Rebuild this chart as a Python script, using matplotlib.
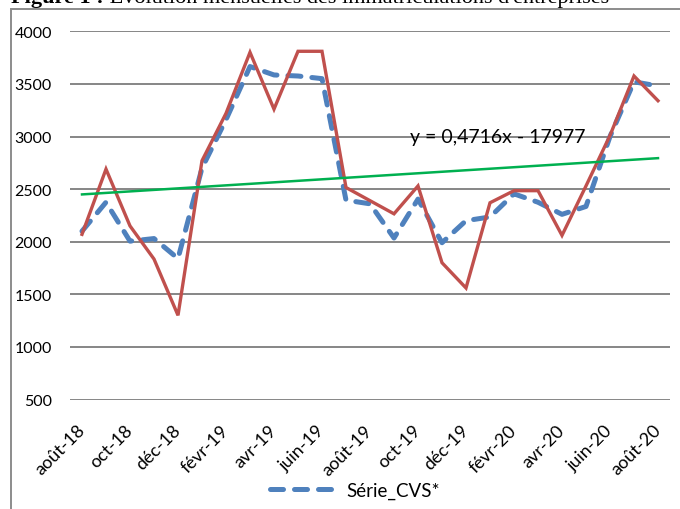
import matplotlib
matplotlib.use("Agg")
import matplotlib.pyplot as plt
from matplotlib.lines import Line2D
from matplotlib.patches import Rectangle
import pandas as pd

# ---- data ----
months = ["août-18", "sept-18", "oct-18", "nov-18", "déc-18", "janv-19", "févr-19",
          "mars-19", "avr-19", "mai-19", "juin-19", "juil-19", "août-19", "sept-19",
          "oct-19", "nov-19", "déc-19", "janv-20", "févr-20", "mars-20", "avr-20",
          "mai-20", "juin-20", "juil-20", "août-20"]
month_dates = pd.date_range("2018-08-01", "2020-08-01", freq="MS")
serie_brute = [2070, 2690, 2150, 1835, 1300, 2770, 3220, 3800, 3260, 3810, 3810, 2515,
               2390, 2265, 2530, 1800, 1560, 2370, 2485, 2485, 2060, 2530, 3010, 3575, 3340]
serie_cvs = [2100, 2375, 2005, 2030, 1840, 2700, 3160, 3665, 3585, 3575, 3550, 2395,
             2360, 2035, 2405, 1990, 2200, 2235, 2455, 2375, 2260, 2335, 3000, 3520, 3480]
trend_slope = 0.4716
trend_intercept = -17977
trend_label = "y = 0,4716x - 17977"
yticks = [500, 1000, 1500, 2000, 2500, 3000, 3500, 4000]
title_bold = "Figure 1 :"
title_rest = " Évolution mensuelles des immatriculations d'entreprises"
legend_label = "Série_CVS*"

W, H = 680, 510
fig = plt.figure(figsize=(W / 100, H / 100), dpi=100)
fig.patch.set_facecolor("white")

# chart border
fig.patches.append(Rectangle((11 / W, -0.1), 1.2, (1 - 9.5 / H) + 0.1,
                             transform=fig.transFigure, fill=False,
                             edgecolor="#8c8c8c", linewidth=1.4, zorder=0))

ax = fig.add_axes([70 / W, 1 - 400.5 / H, 600 / W, (400.5 - 32.3) / H])
x = list(range(len(months)))

ax.plot(x, serie_cvs, color="#4F81BD", linewidth=3.6, dashes=(2.6, 2.2),
        dash_capstyle="round", solid_capstyle="round", zorder=3)
ax.plot(x, serie_brute, color="#C0504D", linewidth=2.4, solid_joinstyle="miter", zorder=4)

# trend line from displayed equation (Excel date serials)
serials = [(d - pd.Timestamp("1899-12-30")).days for d in month_dates]
tx = [x[0], x[-1]]
ty = [trend_slope * serials[0] + trend_intercept, trend_slope * serials[-1] + trend_intercept]
ax.plot(tx, ty, color="#00B050", linewidth=1.8, zorder=5)
ax.annotate(trend_label, xy=(13.65, 3000), fontsize=14, family="Lato",
            ha="left", va="center", color="black")

ax.set_xlim(-0.5, len(months) - 0.5)
ax.set_ylim(500, 4000)
ax.set_yticks(yticks)
ax.set_yticklabels([str(v) for v in yticks], family="Lato", fontsize=11.5)
ax.yaxis.grid(True, color="#868686", linewidth=1.4)
ax.set_axisbelow(True)
ax.tick_params(axis="y", length=0, pad=13)
ax.set_xticks(x[::2])
ax.set_xticklabels(months[::2], rotation=45, ha="right", va="center",
                   rotation_mode="anchor", family="Lato", fontsize=13)
ax.tick_params(axis="x", length=0, pad=20)
for s in ax.spines.values():
    s.set_visible(False)

# legend (only CVS series)
h = Line2D([], [], color="#4F81BD", linewidth=3.6, dashes=(2.6, 2.2),
           dash_capstyle="round")
fig.legend([h], [legend_label], loc="center", bbox_to_anchor=(355 / W, 1 - 491 / H),
           frameon=False, handlelength=3.4, handletextpad=0.7,
           prop={"family": "Lato", "size": 13.5})

# title (partially cut off at top, as in the reference)
fig.canvas.draw()
r = fig.canvas.get_renderer()
t1 = fig.text(11 / W, 1 - 3.0 / H, title_bold, family="Liberation Serif",
              fontweight="bold", fontsize=16, va="baseline", ha="left")
bb = t1.get_window_extent(r)
fig.text(bb.x1 / W, 1 - 3.0 / H, title_rest, family="Liberation Serif",
         fontsize=16, va="baseline", ha="left")

fig.savefig("out.png", dpi=100, facecolor="white")
